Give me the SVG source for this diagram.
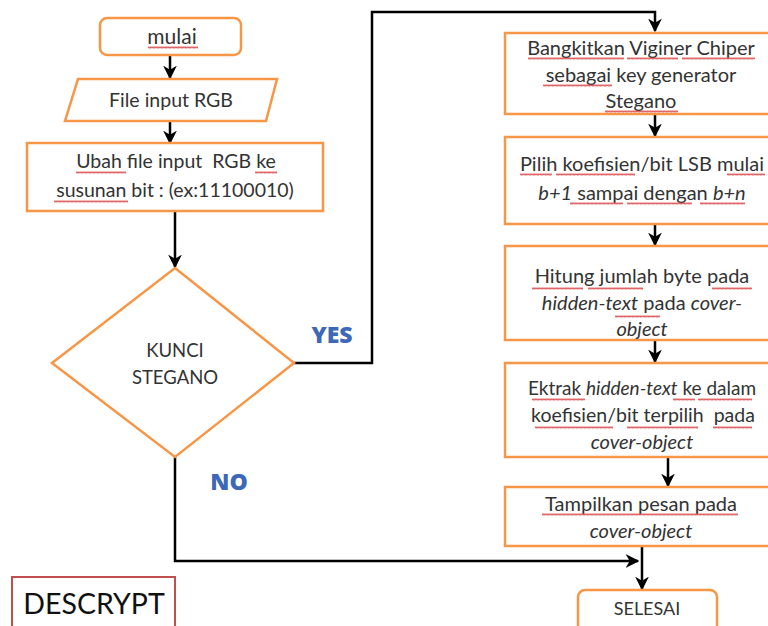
<svg xmlns="http://www.w3.org/2000/svg" width="768" height="626" viewBox="0 0 768 626">
<defs>
<style>
.box{fill:#fff;stroke:#f79646;stroke-width:2.5}
.t{font-family:Lato,"Open Sans",sans-serif;fill:#333;text-anchor:middle}
.l{font-size:19.5px}
.r{font-size:20px}
.i{font-style:italic}
.c{fill:none;stroke:#000;stroke-width:2.5}
.lbl{font-family:"Open Sans",Lato,sans-serif;font-weight:800;font-size:23px;fill:#3d68b8;text-anchor:middle}
.sq{fill:url(#zig)}
</style>
<pattern id="zig" patternUnits="userSpaceOnUse" width="4" height="3">
<path d="M0,2.5 L1,0.5 L2,2.5 L3,0.5 L4,2.5" fill="none" stroke="#d84040" stroke-width="0.8"/>
</pattern>
<marker id="ah" viewBox="0 0 10 10" refX="9" refY="5" markerWidth="5.5" markerHeight="5.5" orient="auto" markerUnits="strokeWidth">
<path d="M0,0 L10,5 L0,10 L3,5 Z" fill="#000"/>
</marker>
</defs>

<g id="connectors">
<path class="c" d="M170,55 V78" marker-end="url(#ah)"/>
<path class="c" d="M170,122 V143" marker-end="url(#ah)"/>
<path class="c" d="M175,211 V267" marker-end="url(#ah)"/>
<path class="c" d="M294,363 H372 V12 H655 V31" marker-end="url(#ah)"/>
<path class="c" d="M655,114 V136" marker-end="url(#ah)"/>
<path class="c" d="M655,224 V245" marker-end="url(#ah)"/>
<path class="c" d="M655,340 V362" marker-end="url(#ah)"/>
<path class="c" d="M668,458 V486" marker-end="url(#ah)"/>
<path class="c" d="M642,546 V589" marker-end="url(#ah)"/>
<path class="c" d="M175,457 V561 H638" marker-end="url(#ah)"/>
<text class="lbl" x="332" y="343">YES</text>
<text class="lbl" x="229" y="490">NO</text>
</g>

<g id="mulai">
<rect class="box" x="100" y="18" width="141" height="37" rx="7"/>
<text class="t" style="font-size:21px" x="172" y="44">mulai</text>
<rect class="sq" transform="translate(148,46)" width="50" height="3"/>
</g>

<g id="file-input">
<polygon class="box" points="78,79 277,79 266,121 65,121"/>
<text class="t l" x="171" y="107">File input RGB</text>
</g>

<g id="ubah">
<rect class="box" x="27" y="143" width="296" height="68"/>
<text class="t l" x="176" y="168">Ubah file input&#160; RGB ke</text>
<text class="t l" x="175" y="197">susunan bit : (ex:11100010)</text>
<rect class="sq" transform="translate(76,171)" width="50" height="3"/>
<rect class="sq" transform="translate(255,171)" width="22" height="3"/>
<rect class="sq" transform="translate(54,200)" width="74" height="3"/>
</g>

<g id="kunci">
<polygon class="box" points="175,268 294,363 175,457 52,363"/>
<text class="t" style="font-size:18.5px" x="175" y="357">KUNCI</text>
<text class="t" style="font-size:18.5px" x="175" y="384">STEGANO</text>
</g>

<g id="descrypt">
<rect x="12" y="577" width="163" height="60" fill="#fff" stroke="#c0504d" stroke-width="2"/>
<text x="94" y="614" style="font-family:Lato,'Open Sans',sans-serif;font-size:28.5px;fill:#111;text-anchor:middle">DESCRYPT</text>
</g>

<g id="bangkitkan">
<rect class="box" x="505" y="33" width="275" height="81"/>
<text class="t r" x="641" y="55">Bangkitkan Viginer Chiper</text>
<text class="t r" x="641" y="82">sebagai key generator</text>
<text class="t r" x="641" y="108">Stegano</text>
<rect class="sq" transform="translate(528,57)" width="96" height="3"/>
<rect class="sq" transform="translate(627,57)" width="51" height="3"/>
<rect class="sq" transform="translate(682,57)" width="73" height="3"/>
<rect class="sq" transform="translate(543,84)" width="69" height="3"/>
<rect class="sq" transform="translate(605,110)" width="73" height="3"/>
</g>

<g id="pilih">
<rect class="box" x="505" y="137" width="275" height="87"/>
<text class="t r" x="642" y="171">Pilih koefisien/bit LSB mulai</text>
<text class="t r" x="642" y="200"><tspan class="i">b+1</tspan> sampai dengan <tspan class="i">b+n</tspan></text>
<rect class="sq" transform="translate(520,173)" width="32" height="3"/>
<rect class="sq" transform="translate(556,173)" width="79" height="3"/>
<rect class="sq" transform="translate(727,173)" width="38" height="3"/>
<rect class="sq" transform="translate(570,202)" width="53" height="3"/>
<rect class="sq" transform="translate(627,202)" width="65" height="3"/>
<rect class="sq" transform="translate(700,202)" width="45" height="3"/>
</g>

<g id="hitung">
<rect class="box" x="505" y="246" width="275" height="94"/>
<text class="t r" x="642" y="283">Hitung jumlah byte pada</text>
<text class="t r" x="642" y="310"><tspan class="i">hidden-text</tspan> pada <tspan class="i">cover-</tspan></text>
<text class="t r i" x="642" y="336">object</text>
<rect class="sq" transform="translate(532,287)" width="51" height="3"/>
<rect class="sq" transform="translate(588,287)" width="55" height="3"/>
<rect class="sq" transform="translate(712,287)" width="40" height="3"/>
<rect class="sq" transform="translate(615,315)" width="45" height="3"/>
</g>

<g id="ektrak">
<rect class="box" x="505" y="363" width="275" height="94"/>
<text class="t" style="font-size:19px" x="642" y="395">Ektrak <tspan class="i">hidden-text</tspan> ke dalam</text>
<text class="t" style="font-size:19.5px" x="643" y="422">koefisien/bit terpilih&#160; pada</text>
<text class="t r i" x="642" y="449">cover-object</text>
<rect class="sq" transform="translate(532,398)" width="53" height="3"/>
<rect class="sq" transform="translate(673,398)" width="22" height="3"/>
<rect class="sq" transform="translate(698,398)" width="54" height="3"/>
<rect class="sq" transform="translate(535,426)" width="78" height="3"/>
<rect class="sq" transform="translate(627,426)" width="71" height="3"/>
<rect class="sq" transform="translate(713,426)" width="39" height="3"/>
</g>

<g id="tampilkan">
<rect class="box" x="505" y="487" width="275" height="59"/>
<text class="t r" x="641" y="511">Tampilkan pesan pada</text>
<text class="t r i" x="641" y="538">cover-object</text>
<rect class="sq" transform="translate(542,513)" width="196" height="3"/>
</g>

<g id="selesai">
<rect class="box" x="578" y="590" width="139" height="45" rx="7"/>
<text class="t" style="font-size:18px" x="647" y="615">SELESAI</text>
</g>
</svg>
